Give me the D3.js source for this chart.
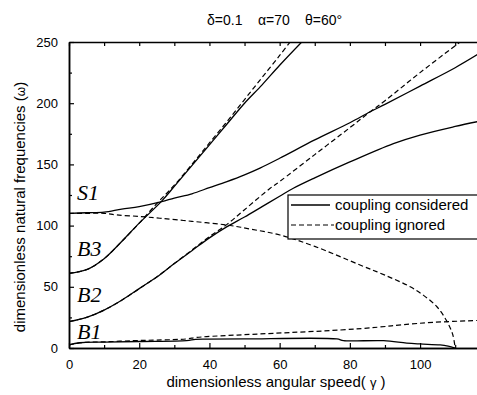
<!DOCTYPE html>
<html>
<head>
<meta charset="utf-8">
<script src="https://cdn.jsdelivr.net/npm/d3@7"></script>
<style>
  html, body { margin: 0; padding: 0; background: #fff; }
  svg { display: block; font-family: "Liberation Sans", Arial, sans-serif; }
</style>
</head>
<body>
<svg id="chart" width="477" height="395"></svg>
<script>
// ---------- data ----------
const xTicks = [0, 20, 40, 60, 80, 100];
const yTicks = [0, 50, 100, 150, 200, 250];

// coupling considered (solid)
const b3SolidG = [0, 5, 10, 15, 20, 26.4, 30, 35, 40, 45, 50, 55, 60, 66.3];
const b3SolidW = [61, 64, 73, 87, 102, 120, 132, 149, 166, 183, 200, 215, 231, 250];
const s1SolidG = [0, 5, 10, 15, 20, 26.4, 30, 35, 40, 45, 50, 54.4, 60, 70, 80, 85.8, 90, 100, 110, 116.5];
const s1SolidW = [110, 110.5, 111, 113.5, 115.5, 119.5, 122.5, 126, 131, 136, 141.5, 147, 155, 170, 184, 193, 199, 214, 229, 240];
const b2SolidG = [0, 5, 10, 15, 20, 25, 30, 35, 40, 44.9, 50, 55, 60, 63.9, 70, 80, 92.4, 100, 110, 116.5];
const b2SolidW = [21.5, 25, 31, 39, 48.5, 58, 69, 79.5, 90, 99, 107, 115.5, 124, 130.5, 139, 152, 167, 174, 181, 185];
const b1SolidG = [0, 3, 10, 20, 33.5, 36, 39.2, 50, 76.3, 78.2, 89.6, 96.2, 100, 105.7, 108, 110];
const b1SolidW = [2.5, 4.3, 4.8, 5.3, 6, 7, 7.2, 7.4, 7.4, 6, 6, 4, 3.3, 2.5, 1.5, 0];

// coupling ignored (dashed)
const b3DashG = [0, 5, 10, 15, 20, 25, 30, 35, 40, 45, 50, 55, 60, 63];
const b3DashW = [61, 64, 73, 87, 102, 118, 133, 150, 167.5, 185, 203, 221, 239, 250];
const s1DashG = [0, 5, 10, 13.6, 20, 25.9, 35, 44.9, 52, 60.1, 70, 82.9, 90, 97.2, 101, 104.8, 107.6, 109.3, 110];
const s1DashW = [110, 110, 110, 108.7, 107.5, 106, 103.5, 100.5, 97, 92.3, 83, 67.8, 59.5, 50, 43, 33.7, 22, 11, 0];
const b2DashG = [0, 5, 10, 15, 20, 25, 30, 35, 40, 45, 50, 57.3, 60, 70, 80, 85.8, 90, 100, 111.4];
const b2DashW = [21.5, 25, 31, 39, 48.5, 58, 69, 80, 91, 101, 113, 130.5, 136, 158, 180, 193, 202, 225, 250];
const b1DashG = [0, 4.1, 10, 18.3, 25, 33.5, 36, 39.2, 47.9, 58.2, 77.2, 88, 95, 104, 116.5];
const b1DashW = [2.5, 4.6, 5, 6, 6.5, 7.4, 8.5, 9.3, 10.6, 12, 14.7, 17, 19, 21, 22.5];

const branchLabels = ["S1", "B3", "B2", "B1"];
const branchLabelW = [121, 75, 37.5, 7.4];   // omega level of each label's baseline
const legendLabels = ["coupling considered", "coupling ignored"];
const titleParts = ["δ=0.1", "α=70", "θ=60°"];

// ---------- layout ----------
const svg = d3.select("#chart");
const L = 69, T = 42, B = 348, R = 478;
const x = d3.scaleLinear().domain([0, 116.5]).range([L, R]);
const y = d3.scaleLinear().domain([0, 250]).range([B, T]);

svg.append("defs").append("clipPath").attr("id", "clip")
  .append("rect").attr("x", L).attr("y", T).attr("width", R - L).attr("height", B - T);

const toPts = (g, w) => g.map((v, i) => [v, w[i]]);
const line = d3.line().x(d => x(d[0])).y(d => y(d[1])).curve(d3.curveCatmullRom.alpha(0.5));

const plot = svg.append("g").attr("clip-path", "url(#clip)");
const solids = [[b3SolidG, b3SolidW], [s1SolidG, s1SolidW], [b2SolidG, b2SolidW], [b1SolidG, b1SolidW]];
const dashes = [[b3DashG, b3DashW], [s1DashG, s1DashW], [b2DashG, b2DashW], [b1DashG, b1DashW]];
dashes.forEach(([g, w]) => {
  plot.append("path").attr("d", line(toPts(g, w)))
    .attr("fill", "none").attr("stroke", "#000").attr("stroke-width", 1.2)
    .attr("stroke-dasharray", "5,3");
});
solids.forEach(([g, w]) => {
  plot.append("path").attr("d", line(toPts(g, w)))
    .attr("fill", "none").attr("stroke", "#000").attr("stroke-width", 1.3);
});

// ---------- axes ----------
const axes = svg.append("g");
const xMinor = d3.range(10, 117, 20);
const yMinor = d3.range(25, 250, 50);
axes.append("g").attr("transform", `translate(0,${B})`)
  .call(d3.axisBottom(x).tickValues(xTicks).tickSizeInner(-5).tickSizeOuter(0).tickPadding(12));
axes.append("g").attr("transform", `translate(0,${B})`)
  .call(d3.axisBottom(x).tickValues(xMinor).tickSizeInner(-3).tickSizeOuter(0).tickFormat(""));
axes.append("g").attr("transform", `translate(0,${T})`)
  .call(d3.axisTop(x).tickValues(d3.range(0, 117, 10)).tickSizeInner(-4).tickSizeOuter(0).tickFormat(""));
axes.append("g").attr("transform", `translate(${L},0)`)
  .call(d3.axisLeft(y).tickValues(yTicks).tickSizeInner(-5).tickSizeOuter(0).tickPadding(11));
axes.append("g").attr("transform", `translate(${L},0)`)
  .call(d3.axisLeft(y).tickValues(yMinor).tickSizeInner(-3).tickSizeOuter(0).tickFormat(""));
axes.selectAll("g").attr("font-family", null).attr("font-size", null);
axes.selectAll(".domain").attr("stroke", "#000").attr("stroke-width", 1.5);
axes.selectAll(".tick line").attr("stroke", "#000").attr("stroke-width", 1.2);
axes.selectAll("text").style("font-family", "'Liberation Sans', Arial, sans-serif")
  .style("font-size", "13px").attr("fill", "#000");

// ---------- branch labels ----------
branchLabels.forEach((t, i) => {
  svg.append("text").attr("x", 77).attr("y", y(branchLabelW[i]))
    .style("font-family", "'Liberation Serif', 'Times New Roman', serif")
    .style("font-style", "italic").style("font-size", "22px").attr("fill", "#000").text(t);
});

// ---------- legend ----------
const lg = svg.append("g");
lg.append("rect").attr("x", 288).attr("y", 195).attr("width", 200).attr("height", 44)
  .attr("fill", "#fff").attr("stroke", "#000").attr("stroke-width", 1.2);
lg.append("line").attr("x1", 291).attr("x2", 330).attr("y1", 205).attr("y2", 205)
  .attr("stroke", "#000").attr("stroke-width", 1.3);
lg.append("line").attr("x1", 291).attr("x2", 334).attr("y1", 225).attr("y2", 225)
  .attr("stroke", "#000").attr("stroke-width", 1.2).attr("stroke-dasharray", "5,3");
legendLabels.forEach((t, i) => {
  lg.append("text").attr("x", 335).attr("y", 210 + i * 20).style("font-size", "15px").text(t);
});

// ---------- title & axis labels ----------
const titleX = [207, 258, 305];
titleParts.forEach((t, i) => {
  svg.append("text").attr("x", titleX[i]).attr("y", 25).style("font-size", "14px").text(t);
});
const xl = svg.append("text").attr("x", 276).attr("y", 387).attr("text-anchor", "middle").style("font-size", "15px");
xl.append("tspan").text("dimensionless angular speed( ");
xl.append("tspan").style("font-size", "13px").text("γ");
xl.append("tspan").text(" )");
const ylab = svg.append("text").attr("transform", "translate(25,207) rotate(-90)")
  .attr("text-anchor", "middle").style("font-size", "15px");
ylab.append("tspan").text("dimensionless natural frequencies (");
ylab.append("tspan").style("font-size", "12px").text("ω");
ylab.append("tspan").text(")");
</script>
</body>
</html>
